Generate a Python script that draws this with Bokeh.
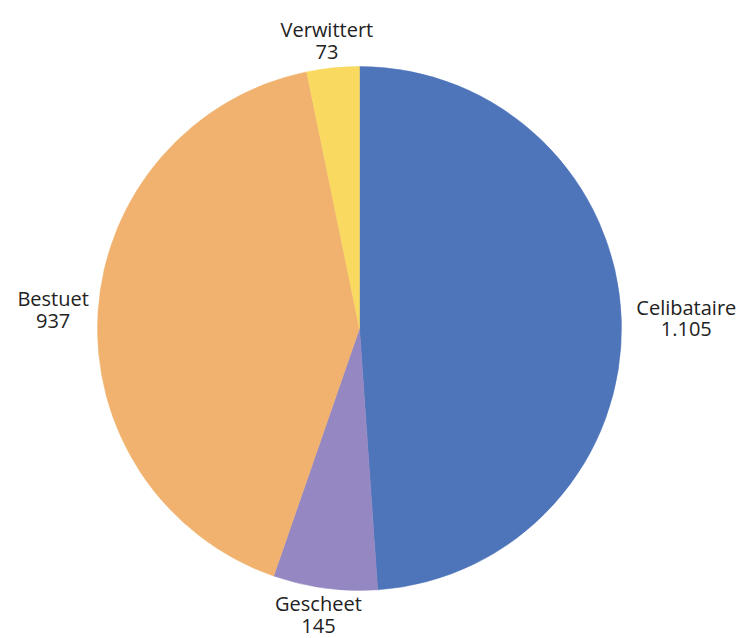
import math
from bokeh.plotting import figure
from bokeh.models import Range1d, ColumnDataSource
from bokeh.core.properties import value
from bokeh.embed import file_html
from bokeh.resources import INLINE

# Data (clockwise from 12 o'clock)
categories = ["Celibataire", "Gescheet", "Bestuet", "Verwittert"]
counts = [1105, 145, 937, 73]
colors = ["#4E75BA", "#9487C2", "#F0B26E", "#F9D960"]

W, H = 742, 638
cx, cy = 359, 638 - 328   # pie centre in data coords (y up)
R = 262
R_LABEL = 272
FONT = "Open Sans"
FS = 20
CHAR_W = 10.0
HALF_H = 17
LINE_OFF = 11

total = float(sum(counts))
starts, ends, mids = [], [], []
cum = 0.0
for v in counts:
    a0 = math.pi / 2 - 2 * math.pi * cum / total
    cum += v
    a1 = math.pi / 2 - 2 * math.pi * cum / total
    starts.append(a0)
    ends.append(a1)
    mids.append((a0 + a1) / 2)

src = ColumnDataSource(dict(start=starts, end=ends, color=colors))

p = figure(width=W, height=H, output_backend="svg", toolbar_location=None,
           x_range=Range1d(0, W), y_range=Range1d(0, H), min_border=0)
p.axis.visible = False
p.grid.visible = False
p.outline_line_color = None
p.background_fill_color = "white"
p.border_fill_color = "white"

p.wedge(x=cx, y=cy, radius=R, start_angle="start", end_angle="end",
        direction="clock", fill_color="color", line_color="color",
        line_width=0.5, source=src)

def fmt(v):
    return f"{v:,}".replace(",", ".")

nx, ny, vx, vy, names, vals = [], [], [], [], [], []
for name, v, m in zip(categories, counts, mids):
    dx, dy = math.cos(m), math.sin(m)
    ax, ay = cx + R_LABEL * dx, cy + R_LABEL * dy
    hw = len(name) * CHAR_W / 2
    lx = ax + dx * hw
    ly = ay + dy * HALF_H
    nx.append(lx); ny.append(ly + LINE_OFF)
    vx.append(lx); vy.append(ly - LINE_OFF)
    names.append(name); vals.append(fmt(v))

p.text(x=nx, y=ny, text=names, text_align="center", text_baseline="middle",
       text_font=value(FONT), text_font_size=f"{FS}px", text_color="#222222")
p.text(x=vx, y=vy, text=vals, text_align="center", text_baseline="middle",
       text_font=value(FONT), text_font_size=f"{FS}px", text_color="#222222")

open("out.html", "w").write(file_html(p, INLINE))
